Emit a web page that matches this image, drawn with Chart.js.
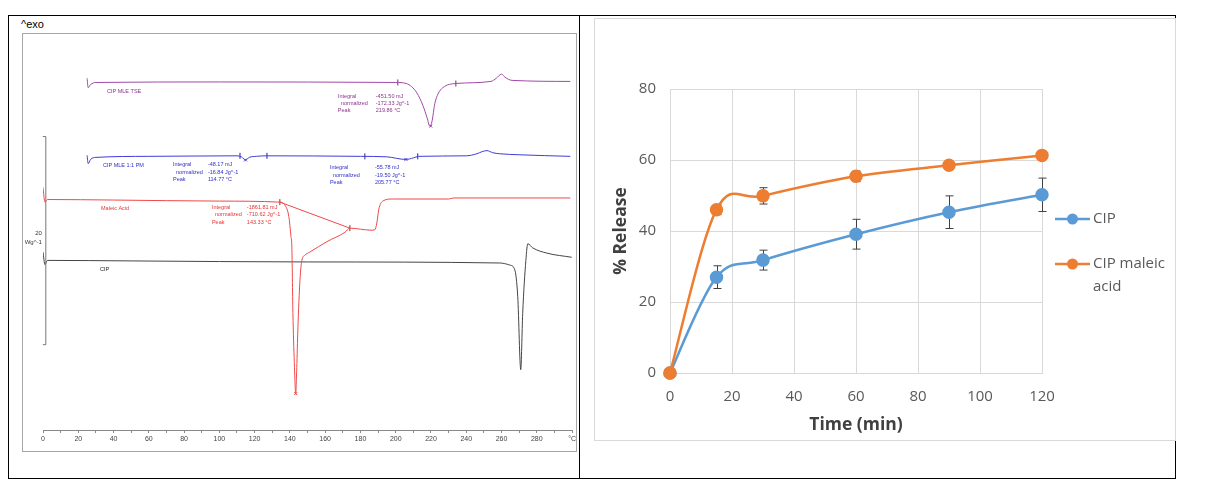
<!DOCTYPE html>
<html>
<head>
<meta charset="utf-8">
<script src="https://cdn.jsdelivr.net/npm/chart.js@4.4.0/dist/chart.umd.min.js"></script>
<style>
  body { margin: 0; background: #fff; width: 1206px; height: 495px; position: relative; overflow: hidden; font-family: "Liberation Sans", Arial, sans-serif; }
  .abs { position: absolute; box-sizing: border-box; }
  #frame { left: 8px; top: 15px; width: 1168px; height: 464px; border: 1px solid #000; }
  #divider { left: 579px; top: 15px; width: 1px; height: 464px; background: #000; }
  #exo { left: 21px; top: 18px; font-size: 11px; color: #000; line-height: 13px; }
  #dscBox { left: 22px; top: 33px; width: 555px; height: 419px; border: 1px solid #a6a6a6; }
  #dsc { left: 23px; top: 34px; }
  #relBox { left: 594px; top: 18px; width: 582px; height: 423px; border: 1px solid #d9d9d9; background: #fff; }
  #release { left: 595px; top: 19px; }
</style>
</head>
<body>
<div id="frame" class="abs"></div>
<div id="divider" class="abs"></div>
<div id="exo" class="abs">^exo</div>
<div id="dscBox" class="abs"></div>
<canvas id="dsc" class="abs" width="555" height="416"></canvas>
<div id="relBox" class="abs"></div>
<canvas id="release" class="abs" width="579" height="420"></canvas>

<script>
// ---- DSC thermograms (temperature °C, heat flow W/g with offsets) ----
const cipMleTse = [[25,33.8],[25.6,32.9],[27,33.2],[30,33.4],[100,33.45],[200,33.4],[206,33.3],[209,33.0],[212,32.4],[215.4,31.2],[217.8,30.0],[219.3,29.2],[220.5,29.6],[222.2,31.4],[224,32.3],[226.7,32.9],[234,33.3],[254,33.5],[257,33.8],[260,34.2],[262,33.9],[266,33.6],[299,33.5]];
const cipMlePm = [[25,26.4],[25.6,25.6],[27,26.0],[30,26.2],[60,26.3],[110,26.35],[112.5,26.25],[114.8,25.95],[117,26.2],[121,26.3],[127,26.35],[180,26.3],[195,26.25],[205.8,26.0],[210,26.15],[213,26.3],[240,26.35],[246,26.55],[249,26.75],[251.7,26.85],[255,26.65],[259,26.55],[270,26.45],[299,26.3]];
const maleicAcid = [[0,23.3],[1.1,21.9],[2.5,22.15],[40,22.1],[100,22.0],[134,21.9],[137.2,21.6],[139.4,20.5],[140.6,18.6],[141.1,17.6],[141.7,11.3],[142.5,6.5],[143.3,3.5],[143.9,6.0],[144.5,9.6],[145.7,14.4],[146.8,16.3],[148.5,16.8],[151.3,17.1],[161,18.1],[171.2,19.0],[174,19.4],[180,19.3],[186,19.2],[188.2,19.25],[189.3,19.9],[190.4,21.2],[192.7,22.0],[198,22.2],[230,22.2],[233,22.3],[299,22.3]];
const cipDsc = [[0,17.1],[1.1,15.9],[2.5,16.3],[50,16.25],[150,16.15],[259,16.05],[264.7,15.85],[267.5,15.4],[269.2,12.8],[270.9,5.8],[272,11.2],[273.8,16.3],[274.9,17.9],[277.7,17.5],[285.7,17.0],[299.8,16.6]];
const maleicBaseline = [[134.3,21.9],[174,19.4]];

// integration limits and peak marks
const tseLimits = [[201.2,33.4],[234.1,33.3]];
const tsePeaks = [[219.9,29.2]];
const pmLimits = [[111.7,26.35],[127,26.35],[182.5,26.3],[212.5,26.3]];
const pmPeaks = [[114.8,25.95],[205.8,26.0]];
const maleicLimits = [[134.3,21.9],[174,19.4]];
const maleicPeaks = [[143.3,3.5]];

// ---- release profile ----
const timeMin = [0, 15, 30, 60, 90, 120];
const cipRelease = [0, 27, 31.8, 39.1, 45.3, 50.2];
const cipErr = [0, 3.2, 2.8, 4.2, 4.6, 4.7];
const cipMaleicRelease = [0, 46, 49.9, 55.4, 58.5, 61.3];
const cipMaleicErr = [0, 1.4, 2.3, 1.5, 1.0, 1.0];
const releaseTicks = [0, 20, 40, 60, 80];

const purple = '#a048a6';
const blue = '#3c3cd8';
const red = '#f04848';
const dark = '#454545';

// text blocks on the thermogram (position in °C / W/g)
const dscNotes = [
    { t: 36.3, v: 32.5, color: '#8e338f', rows: [['CIP MLE TSE']] },
    { t: 167.2, v: 32.1, valueT: 188.7, color: '#8e338f', rows: [['Integral', '-451.50 mJ'], ['  normalized', '-172.33 Jg^-1'], ['Peak', '219.86 °C']] },
    { t: 34, v: 25.4, color: '#2f2fc8', rows: [['CIP MLE 1:1 PM']] },
    { t: 73.7, v: 25.5, valueT: 93.5, color: '#2f2fc8', rows: [['Integral', '-48.17 mJ'], ['  normalized', '-16.84 Jg^-1'], ['Peak', '114.77 °C']] },
    { t: 162.7, v: 25.2, valueT: 188.2, color: '#2f2fc8', rows: [['Integral', '-55.78 mJ'], ['  normalized', '-19.50 Jg^-1'], ['Peak', '205.77 °C']] },
    { t: 32.9, v: 21.3, color: '#e83232', rows: [['Maleic Acid']] },
    { t: 95.8, v: 21.4, valueT: 115.6, color: '#e83232', rows: [['Integral', '-1861.81 mJ'], ['  normalized', '-710.62 Jg^-1'], ['Peak', '143.33 °C']] },
    { t: 32.3, v: 15.4, color: '#222', rows: [['CIP']] }
];

function curve(data, color) {
    return {
        data: data,
        borderColor: color,
        borderWidth: 1,
        pointRadius: 0,
        cubicInterpolationMode: 'monotone',
        fill: false
    };
}

function marks(data, color, style) {
    return {
        data: data,
        showLine: false,
        borderColor: color,
        backgroundColor: color,
        borderWidth: 1,
        pointStyle: style,
        pointRotation: style === 'line' ? 90 : 0,
        pointRadius: style === 'line' ? 3 : 2
    };
}

// Plugin: notes and the 20 W/g scale bar
const dscLabels = {
    id: 'dscLabels',
    afterDatasetsDraw(chart) {
        const { ctx, scales: { x, y } } = chart;
        ctx.save();
        ctx.font = '5.5px "Liberation Sans"';
        ctx.textBaseline = 'middle';
        dscNotes.forEach(n => {
            const px = x.getPixelForValue(n.t);
            const py = y.getPixelForValue(n.v);
            ctx.fillStyle = n.color;
            n.rows.forEach((row, i) => {
                ctx.fillText(row[0], px, py + i * 7.4);
                if (row[1]) ctx.fillText(row[1], x.getPixelForValue(n.valueT), py + i * 7.4);
            });
        });

        // scale bar
        const bx = x.getPixelForValue(1.6);
        const top = y.getPixelForValue(28.2);
        const bot = y.getPixelForValue(8.2);
        ctx.strokeStyle = '#777';
        ctx.lineWidth = 1;
        ctx.beginPath();
        ctx.moveTo(bx - 3, top); ctx.lineTo(bx, top); ctx.lineTo(bx, bot); ctx.lineTo(bx - 3, bot);
        ctx.stroke();
        ctx.fillStyle = '#333';
        ctx.font = '6px "Liberation Sans"';
        ctx.textAlign = 'right';
        ctx.fillText('20', bx - 4, y.getPixelForValue(18.9));
        ctx.fillText('Wg^-1', bx - 4, y.getPixelForValue(18.0));
        ctx.restore();
    }
};

new Chart(document.getElementById('dsc').getContext('2d'), {
    type: 'line',
    data: {
        datasets: [
            curve(cipMleTse, purple),
            curve(cipMlePm, blue),
            curve(maleicAcid, red),
            curve(cipDsc, dark),
            { data: maleicBaseline, borderColor: red, borderWidth: 1, pointRadius: 0, tension: 0 },
            marks(tseLimits, '#6a2a70', 'line'),
            marks(tsePeaks, purple, 'crossRot'),
            marks(pmLimits, '#22229a', 'line'),
            marks(pmPeaks, blue, 'crossRot'),
            marks(maleicLimits, '#a02020', 'line'),
            marks(maleicPeaks, red, 'crossRot')
        ]
    },
    options: {
        responsive: false,
        animation: false,
        layout: { padding: { left: 20, top: 11, right: 3, bottom: 0 } },
        plugins: { legend: { display: false }, tooltip: { enabled: false } },
        scales: {
            x: {
                type: 'linear',
                min: 0,
                max: 300,
                afterFit: s => { s.height = 20; },
                ticks: {
                    stepSize: 10,
                    autoSkip: false,
                    maxRotation: 0,
                    padding: 2,
                    color: '#444',
                    font: { family: 'Liberation Sans', size: 7 },
                    callback: v => v === 300 ? '°C' : (v % 20 === 0 ? v : '')
                },
                grid: { drawOnChartArea: false, tickLength: 3, color: '#888' },
                border: { color: '#888' }
            },
            y: { display: false, min: 0, max: 37 }
        }
    },
    plugins: [dscLabels]
});

// Plugin: error bars drawn from the data arrays
const errorBars = {
    id: 'errorBars',
    beforeDatasetsDraw(chart) {
        const { ctx, scales: { x, y } } = chart;
        ctx.save();
        ctx.strokeStyle = '#404040';
        ctx.lineWidth = 1;
        chart.data.datasets.forEach(ds => {
            ds.data.forEach((p, i) => {
                const err = ds.errors[i];
                if (!err) return;
                const px = Math.round(x.getPixelForValue(p.x)) + 0.5;
                const y1 = y.getPixelForValue(p.y + err);
                const y2 = y.getPixelForValue(p.y - err);
                ctx.beginPath();
                ctx.moveTo(px, y1); ctx.lineTo(px, y2);
                ctx.moveTo(px - 4, y1); ctx.lineTo(px + 4, y1);
                ctx.moveTo(px - 4, y2); ctx.lineTo(px + 4, y2);
                ctx.stroke();
            });
        });
        ctx.restore();
    }
};

// Plugin: Excel style smoothing (Catmull-Rom control points, 1/6 of the neighbour span)
const excelSmooth = {
    id: 'excelSmooth',
    beforeDatasetDraw(chart, args) {
        const meta = args.meta;
        meta.dataset.updateControlPoints(chart.chartArea);
        const pts = meta.data;
        pts.forEach((pt, i) => {
            const prev = pts[i - 1] || pt;
            const next = pts[i + 1] || pt;
            pt.cp1x = pt.x - (next.x - prev.x) / 6;
            pt.cp1y = pt.y - (next.y - prev.y) / 6;
            pt.cp2x = pt.x + (next.x - prev.x) / 6;
            pt.cp2y = pt.y + (next.y - prev.y) / 6;
        });
    }
};

// Plugin: legend on the right like the Excel one
const sideLegend = {
    id: 'sideLegend',
    afterDraw(chart) {
        const { ctx, chartArea } = chart;
        const items = [
            { color: '#5b9bd5', lines: ['CIP'], y: chartArea.top + 130 },
            { color: '#ed7d31', lines: ['CIP maleic', 'acid'], y: chartArea.top + 175 }
        ];
        ctx.save();
        ctx.font = '15px "Open Sans"';
        ctx.textBaseline = 'middle';
        items.forEach(it => {
            const x0 = chartArea.right + 13;
            ctx.strokeStyle = it.color;
            ctx.lineWidth = 2.5;
            ctx.beginPath();
            ctx.moveTo(x0, it.y); ctx.lineTo(x0 + 35, it.y);
            ctx.stroke();
            ctx.fillStyle = it.color;
            ctx.beginPath();
            ctx.arc(x0 + 17.5, it.y, 5.5, 0, Math.PI * 2);
            ctx.fill();
            ctx.fillStyle = '#595959';
            it.lines.forEach((t, i) => ctx.fillText(t, x0 + 38, it.y + i * 23));
        });
        ctx.restore();
    }
};

function series(label, values, errors, color, order) {
    return {
        label: label,
        data: timeMin.map((t, i) => ({ x: t, y: values[i] })),
        errors: errors,
        borderColor: color,
        backgroundColor: color,
        borderWidth: 2.5,
        pointRadius: 5.5,
        pointHoverRadius: 5.5,
        tension: 0.4,
        clip: false,
        order: order
    };
}

const tickFont = { family: 'Open Sans', size: 15 };
const titleFont = { family: 'Open Sans', size: 17.5, weight: 'bold' };

new Chart(document.getElementById('release').getContext('2d'), {
    type: 'line',
    data: {
        datasets: [
            series('CIP', cipRelease, cipErr, '#5b9bd5', 1),
            series('CIP maleic acid', cipMaleicRelease, cipMaleicErr, '#ed7d31', 0)
        ]
    },
    options: {
        responsive: false,
        animation: false,
        layout: { padding: { left: 12, top: 70, right: 132, bottom: 0 } },
        plugins: { legend: { display: false }, tooltip: { enabled: false } },
        scales: {
            x: {
                type: 'linear',
                min: 0,
                max: 120,
                afterFit: s => { s.height = 66; },
                ticks: { stepSize: 20, padding: 15, color: '#595959', font: tickFont },
                grid: { color: '#d9d9d9', drawTicks: false },
                border: { color: '#d9d9d9' },
                title: { display: true, text: 'Time (min)', color: '#404040', font: titleFont, padding: { top: 0, bottom: 3 } }
            },
            y: {
                min: 0,
                max: 80,
                afterFit: s => { s.width = 63; },
                afterBuildTicks: s => { s.ticks = releaseTicks.map(v => ({ value: v })); },
                ticks: { padding: 14, color: '#595959', font: tickFont },
                grid: { color: '#d9d9d9', drawTicks: false },
                border: { color: '#d9d9d9' },
                title: { display: true, text: '% Release', color: '#404040', font: titleFont, padding: { top: 4, bottom: 0 } }
            }
        }
    },
    plugins: [errorBars, excelSmooth, sideLegend]
});
</script>
</body>
</html>
